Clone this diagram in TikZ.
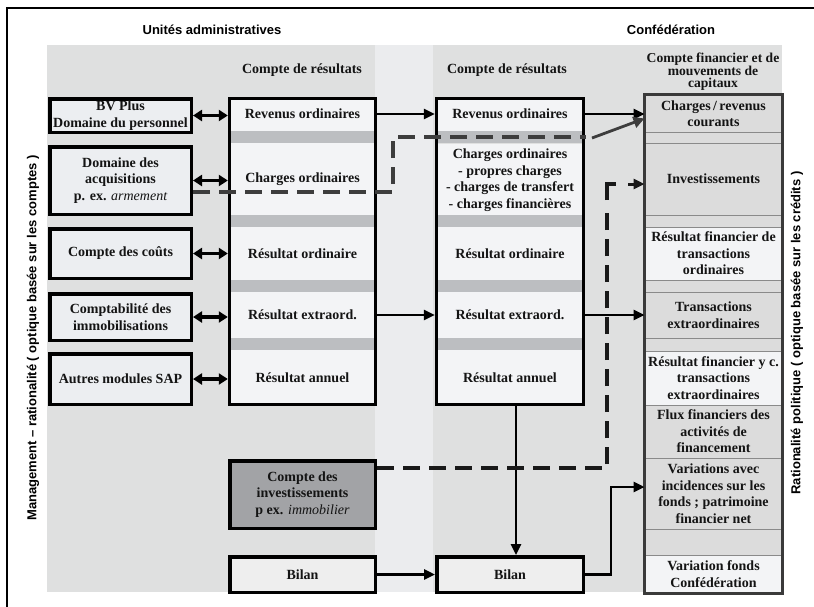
\documentclass[tikz,border=0pt]{standalone}
\usepackage{fontspec}
\setmainfont{Liberation Serif}
\newfontfamily\sansf{Liberation Sans}
\usetikzlibrary{arrows.meta}
\definecolor{bgA}{HTML}{DFE0E0}
\definecolor{bgL}{HTML}{EBECEE}
\definecolor{rowc}{HTML}{F3F4F6}
\definecolor{band}{HTML}{BCBEC1}
\definecolor{lboxc}{HTML}{ECEEF1}
\definecolor{darkc}{HTML}{A2A3A6}
\definecolor{bilc}{HTML}{EEEEEE}
\definecolor{rgray}{HTML}{DCDCDC}
\definecolor{sepc}{HTML}{8A8A8A}
\definecolor{rbord}{HTML}{3A3A3A}
\definecolor{dkg}{HTML}{3D3D3D}
\begin{document}
\begin{tikzpicture}[x=1pt,y=-1pt,
 txt/.style={font=\fontsize{14}{16.5}\selectfont\bfseries,align=center,inner sep=0pt,text=black!92},
 rowA/.style={txt,fill=rowc,minimum width=149pt},
 lbox/.style={txt,fill=lboxc,draw=black,line width=3.5pt,minimum width=141.5pt},
 rc/.style={txt,fill=rgray,draw=sepc,line width=1pt,minimum width=137pt},
 rl/.style={rc,fill=rowc},
 dbl/.style={{Triangle[length=9pt,width=11pt]}-{Triangle[length=9pt,width=11pt]},line width=3.2pt},
 arr/.style={-{Triangle[length=11pt,width=10pt]},line width=2.6pt},
 dsh/.style={line width=3.5pt,dash pattern=on 17pt off 9pt},
 sidel/.style={rotate=90,font=\sansf\bfseries\fontsize{13}{15}\selectfont},
 headl/.style={font=\sansf\bfseries\fontsize{13}{15}\selectfont}]
\useasboundingbox (0,0) rectangle (814,606);
\fill[white] (0,0) rectangle (814,606);
% background panels
\fill[bgA] (47,45) rectangle (375,592);
\fill[bgL] (375,45) rectangle (433,592);
\fill[bgA] (433,45) rectangle (782,592);
% frame
\draw[line width=2.5pt] (7,620) -- (7,8) -- (822,8);
% headings
\node[headl] (hU) at (212,30) {Unités administratives};
\node[headl] (hC) at (671,30) {Confédération};
\node[txt] (hA) at (302,70) {Compte de résultats};
\node[txt] (hB) at (507,70) {Compte de résultats};
\node[txt,font=\fontsize{13.6}{12.3}\selectfont\bfseries] (hR) at (713,71.5) {Compte financier et de\\mouvements de\\capitaux};
% side labels
\node[sidel] (lL) at (33,338) {Management – rationalité ( optique basée sur les comptes )};
\node[sidel] (lR) at (797,333) {Rationalité politique ( optique basée sur les crédits )};
% left boxes
\node[lbox,minimum height=33.5pt] (BV) at (120.5,115.5) {BV Plus\\Domaine du personnel};
\node[lbox,minimum height=67.5pt] (Dom) at (120.5,180.5) {Domaine des\\acquisitions\\p. ex. {\mdseries\itshape armement}};
\node[lbox,minimum height=49.5pt] (CdC) at (120.5,253.5) {Compte des coûts};
\node[lbox,minimum height=46.5pt] (Cpt) at (120.5,317) {Comptabilité des\\immobilisations};
\node[lbox,minimum height=50.5pt] (Aut) at (120.5,379) {Autres modules SAP};
% column A
\node[rowA,minimum height=34pt] (Arev) at (302.5,114) {Revenus ordinaires};
\node[rowA,minimum height=72pt] (Achg) at (302.5,179) {Charges ordinaires};
\node[rowA,minimum height=53pt] (Aord) at (302.5,253.5) {Résultat ordinaire};
\node[rowA,minimum height=46pt] (Aext) at (302.5,315) {Résultat extraord.};
\node[rowA,minimum height=56pt] (Aann) at (302.5,378) {Résultat annuel};
% column B
\node[rowA,minimum width=150pt,minimum height=34pt] (Brev) at (510,114) {Revenus ordinaires};
\node[rowA,minimum width=150pt,minimum height=72pt] (Bchg) at (510,180) {Charges ordinaires\\- propres charges\\- charges de transfert\\- charges financières};
\node[rowA,minimum width=150pt,minimum height=53pt] (Bord) at (510,253.5) {Résultat ordinaire};
\node[rowA,minimum width=150pt,minimum height=46pt] (Bext) at (510,315) {Résultat extraord.};
\node[rowA,minimum width=150pt,minimum height=56pt] (Bann) at (510,378) {Résultat annuel};
\foreach \ya/\yb in {131/143,215/227,280/292,338/350}{
  \fill[band] (228,\ya) rectangle (377,\yb);
  \fill[band] (435,\ya) rectangle (585,\yb);}
\draw[line width=3.5pt] ([xshift=1.75pt,yshift=-1.75pt]Arev.north west) rectangle ([xshift=-1.75pt,yshift=1.75pt]Aann.south east);
\draw[line width=3.5pt] ([xshift=1.75pt,yshift=-1.75pt]Brev.north west) rectangle ([xshift=-1.75pt,yshift=1.75pt]Bann.south east);
% lower boxes
\node[txt,fill=darkc,draw=black,line width=3.5pt,minimum width=145.5pt,minimum height=67.5pt] (CdI) at (302.5,494.5) {Compte des\\investissements\\p ex. {\mdseries\itshape immobilier}};
\node[txt,fill=bilc,draw=black,line width=3.5pt,minimum width=145.5pt,minimum height=35.5pt] (BilA) at (302.5,574.5) {Bilan};
\node[txt,fill=bilc,draw=black,line width=3.5pt,minimum width=146.5pt,minimum height=35.5pt] (BilB) at (510,574.5) {Bilan};
% right column
\node[rc,minimum height=37pt] (R1) at (713.5,113.5) {Charges\,/\,revenus\\courants};
\node[rc,minimum height=11pt] (R2) at (713.5,137.5) {};
\node[rc,minimum height=72pt] (R3) at (713.5,179) {Investissements};
\node[rc,minimum height=12pt] (R4) at (713.5,221) {};
\node[rl,minimum height=53pt] (R5) at (713.5,253.5) {Résultat financier de\\transactions\\ordinaires};
\node[rc,minimum height=12pt] (R6) at (713.5,286) {};
\node[rc,minimum height=46pt] (R7) at (713.5,315) {Transactions\\extraordinaires};
\node[rc,minimum height=13pt] (R8) at (713.5,344.5) {};
\node[rl,minimum height=54pt] (R9) at (713.5,378) {Résultat financier y c.\\transactions\\extraordinaires};
\node[rc,minimum height=53pt] (R10) at (713.5,431.5) {Flux financiers des\\activités de\\financement};
\node[rc,minimum height=71pt] (R11) at (713.5,493.5) {Variations avec\\incidences sur les\\fonds ; patrimoine\\financier net};
\node[rc,minimum height=26pt] (R12) at (713.5,542) {};
\node[rl,minimum height=38pt] (R13) at (713.5,574) {Variation fonds\\Confédération};
\draw[rbord,line width=3.5pt] (R1.north west) rectangle (R13.south east);
% double arrows
\foreach \n in {BV,Dom,CdC,Cpt,Aut}{
  \draw[dbl] (\n.east) -- (\n.east -| Arev.west);}
% solid arrows
\draw[arr] (Arev.east) -- (Brev.west);
\draw[arr] (Aext.east) -- (Bext.west);
\draw[arr] (Brev.east) -- (Brev.east -| R1.west);
\draw[arr] (Bext.east) -- (Bext.east -| R7.west);
\draw[arr] ([xshift=6pt]Bann.south) -- ([xshift=6pt]BilB.north);
\draw[arr] (BilA.east) -- (BilB.west);
\coordinate (k2) at (611,487);
\draw[arr] (BilB.east) -| (k2) -- (k2 -| R11.west);
% dashed connectors
\coordinate (y192) at (0,192);
\draw[dsh,dkg] (Dom.east |- y192) -- (393,192) -- (393,137) -- (586,137);
\draw[dkg,line width=2.8pt,-{Triangle[length=11pt,width=11pt]}] (592,138) -- ([yshift=-5pt]R1.west);
\coordinate (y468) at (0,468);
\coordinate (y184) at (0,184);
\draw[dsh,black!90] (CdI.east |- y468) -- (607,468) -- (607,205);
\draw[black!90,line width=3.5pt] (607,200) -- (607,184) -- (616,184);
\draw[black!90,line width=3pt,-{Triangle[length=11pt,width=10pt]}] (628,184) -- (R3.west |- y184);
\end{tikzpicture}
\end{document}
